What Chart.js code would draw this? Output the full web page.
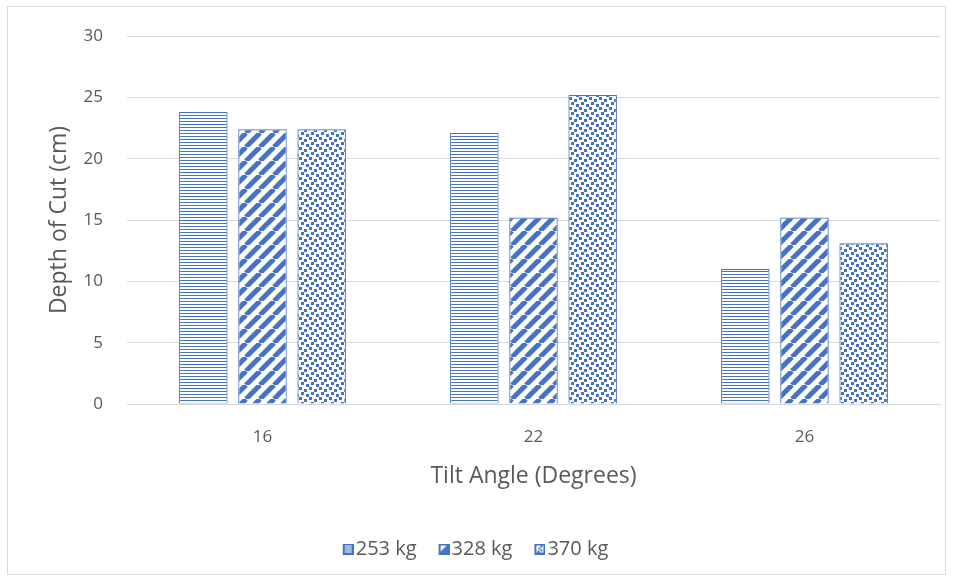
<!DOCTYPE html>
<html><head><meta charset="utf-8">
<script src="https://cdn.jsdelivr.net/npm/chart.js@4"></script>
<style>
html,body{margin:0;padding:0;background:#fff;}
#wrap{position:absolute;left:7px;top:6px;width:939px;height:569px;border:1px solid #d9d9d9;box-sizing:border-box;}
canvas{display:block;}
</style></head><body>
<div id="wrap"><canvas id="c"></canvas></div>
<script>
const categories = ["16", "22", "26"];
const seriesNames = ["253 kg", "328 kg", "370 kg"];
const values253 = [23.8, 22.1, 11.0];
const values328 = [22.4, 15.2, 15.2];
const values370 = [22.4, 25.2, 13.1];
const yTicks = [0, 5, 10, 15, 20, 25, 30];

const BLUE = '#4472C4';
function tile(w, h, draw) {
  const c = document.createElement('canvas'); c.width = w; c.height = h;
  const g = c.getContext('2d'); g.fillStyle = '#fff'; g.fillRect(0, 0, w, h);
  g.fillStyle = BLUE; g.strokeStyle = BLUE; draw(g, w, h); return c;
}
const ctx0 = document.createElement('canvas').getContext('2d');
const hTile = tile(4, 3, (g) => { g.fillRect(0, 0, 4, 1); });
const dTile = tile(14, 14, (g) => {
  g.lineWidth = 5;
  for (const k of [-14, 0, 14]) { g.beginPath(); g.moveTo(k, 14); g.lineTo(k + 14, 0); g.stroke(); }
});
const pTile = tile(10, 10, (g) => {
  [[1,0],[6,2],[3,5],[8,7]].forEach(([x,y]) => g.fillRect(x, y, 3, 3));
  g.fillRect(-2, 7, 3, 3);
});
const patterns = [hTile, dTile, pTile].map(t => ctx0.createPattern(t, 'repeat'));

function icon(kind) {
  const c = document.createElement('canvas'); c.width = 22; c.height = 11;
  const g = c.getContext('2d'); g.translate(11, 0);
  g.fillStyle = BLUE; g.fillRect(0, 0, 11, 11);
  g.fillStyle = '#fff';
  if (kind === 0) { for (let y = 2; y < 10; y += 2) g.fillRect(2, y, 7, 1); }
  else if (kind === 1) { g.beginPath(); g.moveTo(2, 2); g.lineTo(8, 2); g.lineTo(2, 8); g.closePath(); g.fill(); }
  else { g.fillRect(2, 2, 7, 7); g.fillStyle = BLUE; g.fillRect(4, 4, 2, 2); g.fillRect(6, 6, 2, 2); g.fillRect(3, 7, 2, 2); g.fillRect(6,2,2,2);}
  return c;
}
const icons = [icon(0), icon(1), icon(2)];

const allValues = [values253, values328, values370];
const datasets = seriesNames.map((n, i) => ({
  label: n, data: allValues[i], backgroundColor: patterns[i], borderColor: BLUE, borderWidth: 1.2,
  pointStyle: icons[i], categoryPercentage: 0.655, barPercentage: 0.82
}));

const cv = document.getElementById('c');
cv.width = 937; cv.height = 567;
const FONT = "'Open Sans', 'Noto Sans', sans-serif";
const GREY = '#595959';
new Chart(cv, {
  type: 'bar',
  data: { labels: categories, datasets },
  options: {
    responsive: false, animation: false, devicePixelRatio: 1,
    layout: { padding: { left: 0, right: 5, top: 29, bottom: 5 } },
    plugins: {
      tooltip: { enabled: false },
      legend: { position: 'bottom', labels: { usePointStyle: true, boxWidth: 6, boxHeight: 11, padding: 19,
        color: GREY, font: { family: FONT, size: 20 } } }
    },
    scales: {
      x: {
        afterFit: (ax) => { ax.height = 116; },
        grid: { display: false, drawTicks: false },
        border: { display: true, color: '#d9d9d9', width: 1 },
        ticks: { color: GREY, font: { family: FONT, size: 17 }, padding: 23 },
        title: { display: true, text: 'Tilt Angle (Degrees)', color: GREY, font: { family: FONT, size: 23 }, padding: { top: 30, bottom: 30 } }
      },
      y: {
        min: 0, max: 30,
        afterFit: (ax) => { ax.width = 119; },
        afterBuildTicks: (ax) => { ax.ticks = yTicks.map(v => ({ value: v })); },
        grid: { color: '#d9d9d9', drawTicks: true, tickLength: 24, tickColor: 'rgba(0,0,0,0)', lineWidth: 1 },
        border: { display: false },
        ticks: { color: GREY, font: { family: FONT, size: 17 }, padding: 0 },
        title: { display: true, text: 'Depth of Cut (cm)', color: GREY, font: { family: FONT, size: 23 }, padding: { top: 38, bottom: 38 } }
      }
    }
  }
});
</script>
</body></html>
